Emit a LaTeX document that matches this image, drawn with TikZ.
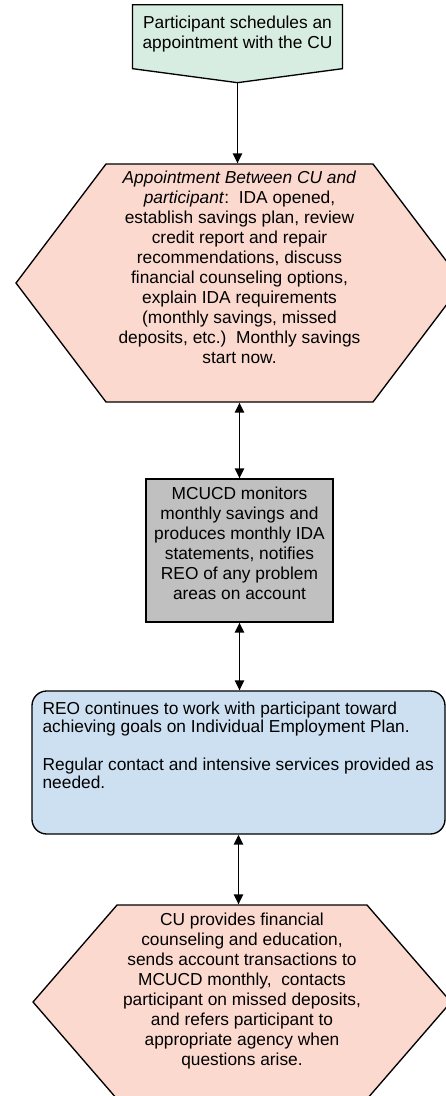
\documentclass[tikz,border=0pt]{standalone}
\usepackage{xcolor}
\usepackage{fontspec}
\setmainfont{Liberation Sans}
\usepackage{tikz}
\usetikzlibrary{positioning, shapes.symbols, arrows.meta}

\definecolor{startGreen}{RGB}{216,237,225}
\definecolor{cuPink}{RGB}{251,217,207}
\definecolor{mcucdGray}{RGB}{192,192,192}
\definecolor{reoBlue}{RGB}{205,224,241}

\tikzset{
    box/.style={draw=black, line width=1pt, inner sep=0pt},
    hexbox/.style={box, signal, signal to=west and east, fill=cuPink},
    txt/.style={inner sep=0pt, align=center, font=\fontsize{13}{15}\selectfont},
    flow/.style={line width=1.1pt, -{Triangle[length=7.5pt, width=7pt]}},
    twoway/.style={line width=1.1pt, {Triangle[length=7.5pt, width=7pt]}-{Triangle[length=7.5pt, width=7pt]}}
}

\begin{document}
\begin{tikzpicture}[x=0.75pt, y=-0.75pt]
    \useasboundingbox (0, 0) rectangle (446, 1096);

    \node[box, signal, signal to=south, signal pointer angle=164.8, fill=startGreen, minimum width=157.5pt, minimum height=48pt, anchor=north] at (237.5, 4) (start) {};
    \node[hexbox, signal pointer angle=105.8, minimum width=335.25pt, minimum height=178.5pt] at (239.5, 283) (hexA) {};
    \node[box, rectangle, fill=mcucdGray, minimum width=140.25pt, minimum height=107.25pt] at (239.5, 550.5) (mcucd) {};
    \node[box, rectangle, rounded corners=11pt, fill=reoBlue, minimum width=309.75pt, minimum height=107.25pt] at (238.5, 762.5) (reo) {};
    \node[hexbox, signal pointer angle=98.2, minimum width=313.5pt, minimum height=145.5pt] at (242, 1002) (hexB) {};

    \node[txt, below=9pt of start.north] (startTxt) {Participant schedules an\\appointment with the CU};
    \node[txt, below=5.25pt of hexA.north] (hexATxt) {\textit{Appointment Between CU and}\\\textit{participant}:\ \ IDA opened,\\establish savings plan, review\\credit report and repair\\recommendations, discuss\\financial counseling options,\\explain IDA requirements\\(monthly savings, missed\\deposits, etc.)\ \ Monthly savings\\start now.};
    \node[txt, below=6pt of mcucd.north] (mcucdTxt) {MCUCD monitors\\monthly savings and\\produces monthly IDA\\statements, notifies\\REO of any problem\\areas on account};
    \node[txt, align=left, font=\fontsize{13}{14}\selectfont, below right=8.25pt and 8.25pt of reo.north west] (reoTxt) {REO continues to work with participant toward\\achieving goals on Individual Employment Plan.\\[14pt]Regular contact and intensive services provided as\\needed.};
    \node[txt, below=6pt of hexB.north] (hexBTxt) {CU provides financial\\counseling and education,\\sends account transactions to\\MCUCD monthly,\ \ contacts\\participant on missed deposits,\\and refers participant to\\appropriate agency when\\questions arise.};

    \draw[flow] (start.south) -- (start.south |- hexA.north);
    \draw[twoway] (hexA.south) -- (hexA.south |- mcucd.north);
    \draw[twoway] (mcucd.south) -- (mcucd.south |- reo.north);
    \draw[twoway] (reo.south) -- (reo.south |- hexB.north);
\end{tikzpicture}
\end{document}
